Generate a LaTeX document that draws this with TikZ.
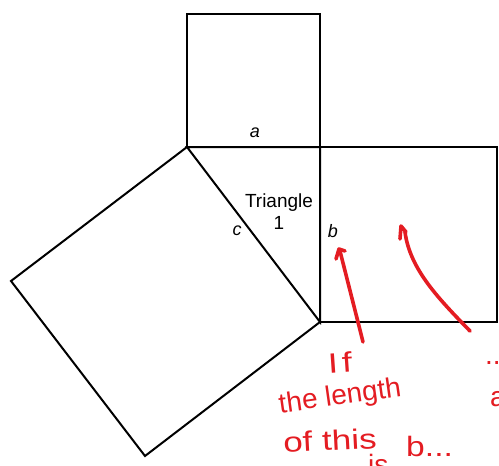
\documentclass[tikz,border=0pt]{standalone}
\usepackage{fontspec}
\setmainfont{Liberation Sans}
\definecolor{pen}{RGB}{228,28,34}
\begin{document}
\begin{tikzpicture}[x=1pt,y=-1pt,
  edge/.style={line width=2pt, line join=miter},
  lbl/.style={font=\fontsize{18}{20}\selectfont\itshape, inner sep=0pt},
  tri/.style={font=\fontsize{19}{22}\selectfont, align=center, inner sep=0pt},
  ink/.style={pen, line width=3.6pt, line cap=round, line join=round},
  hand/.style={text=pen, font=\fontsize{28}{30}\selectfont, inner sep=0pt}]
\useasboundingbox (0,0) rectangle (499,466);
\fill[white] (0,0) rectangle (499,466);
% vertices
\coordinate (A) at (187,147);
\coordinate (B) at (320,147);
\coordinate (C) at (320,322);
% squares
\draw[edge] (A) -- (187,14) -- (320,14) -- (B);
\draw[edge] (B) -- (497,147) -- (497,322) -- (C);
\draw[edge] (A) -- (11,281) -- (145,456) -- (C);
% triangle
\draw[edge] (A) -- (B) -- (C) -- cycle;
% labels
\node[lbl] (la) at (255,133) {a};
\node[lbl] (lb) at (333,231) {b};
\node[lbl] (lc) at (237,231) {c};
\node[tri] (t1) at (279,212) {Triangle\\1};
% red annotations
\coordinate (p1) at (363,342);
\coordinate (p1t) at (340,251);
\draw[ink] (p1) .. controls (355,310) and (346,275) .. (p1t);
\draw[ink] (336,259) -- (339,249) -- (345,251);
\coordinate (p2) at (470,331);
\coordinate (p2t) at (405,232);
\draw[ink] (p2) .. controls (440,300) and (410,270) .. (p2t);
\draw[ink] (400,239) -- (401,226) -- (406,232);
\node[hand, rotate=4, xscale=1.3] (h1) at (340,363) {I\kern3pt f};
\node[hand, rotate=8, anchor=west] (h2) at (279,406) {the length};
\node[hand, rotate=3, xscale=1.25, anchor=west] (h3) at (283,443) {of this};
\node[hand, anchor=north west] (h4) at (368,454) {is};
\node[hand, xscale=1.2, anchor=west] (h5) at (406,446) {b...};
\node[hand, anchor=west] (h6) at (485,363) {...};
\node[hand, anchor=west] (h7) at (490,399) {a};
\end{tikzpicture}
\end{document}
